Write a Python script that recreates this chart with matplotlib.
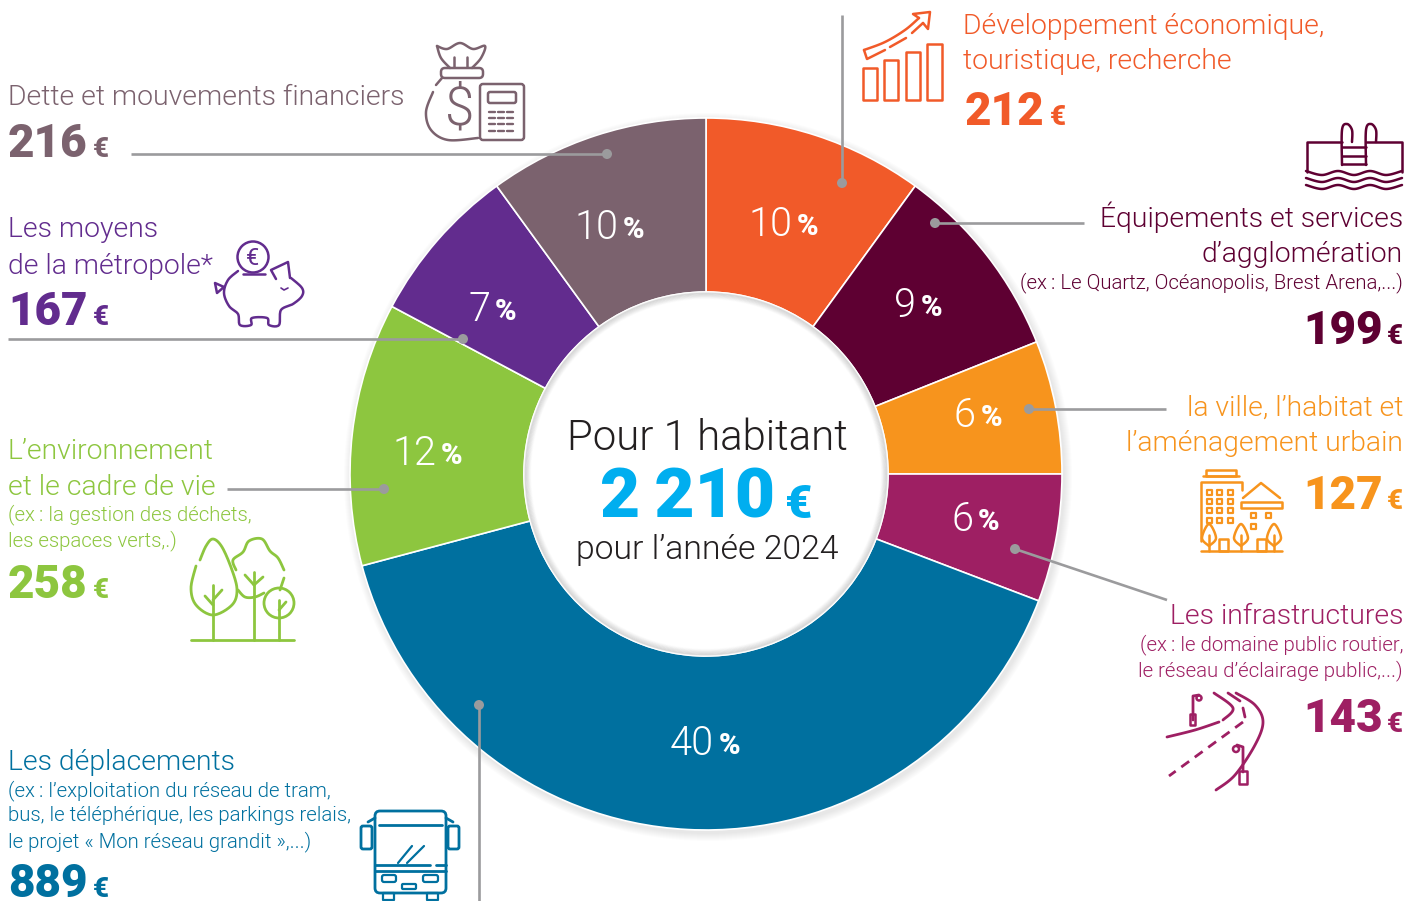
import numpy as np
import matplotlib
matplotlib.use('Agg')
import matplotlib.pyplot as plt
from matplotlib.patches import Circle, Rectangle, FancyBboxPatch

plt.rcParams['font.family'] = ['Roboto', 'DejaVu Sans']

# chart values
categories = ['Développement économique, touristique, recherche',
              'Équipements et services d’agglomération',
              'la ville, l’habitat et l’aménagement urbain',
              'Les infrastructures',
              'Les déplacements',
              'L’environnement et le cadre de vie',
              'Les moyens de la métropole*',
              'Dette et mouvements financiers']
percents = [10, 9, 6, 6, 40, 12, 7, 10]
shares = [10, 8.95, 6.05, 5.8, 40.05, 11.95, 7.2, 10]
euros = [212, 199, 127, 143, 889, 258, 167, 216]
colors = ['#f15a29', '#5e0032', '#f7941d', '#9e1f63', '#00709f', '#8dc63f', '#622c8e', '#7b626e']

# layout, everything is in picture pixels
label_pos = [(794, 236), (918, 317), (978, 427), (975, 531), (716, 755), (438, 465), (492, 321), (620, 239)]
GREY = '#9b9b9d'
leaders = [((842, 15), (842, 183)), ((935, 223), (1084, 223)), ((1029, 409), (1166, 409)),
           ((1015, 549), (1167, 600)), ((479, 705), (479, 901)), ((384, 489), (227, 489)),
           ((463, 339), (8, 339)), ((607, 154), (131, 154))]

fig = plt.figure(figsize=(14.1, 9.01), dpi=100)
ax = fig.add_axes([0, 0, 1, 1])


def smooth(pts, n=14):
    # catmull-rom through the points
    p = np.array(pts, dtype=float)
    p = np.vstack([p[0], p, p[-1]])
    out = []
    for i in range(1, len(p) - 2):
        for u in np.linspace(0, 1, n, endpoint=False):
            a, b, c, d = p[i - 1], p[i], p[i + 1], p[i + 2]
            out.append(0.5 * (2 * b + (c - a) * u + (2 * a - 5 * b + 4 * c - d) * u ** 2 + (3 * b - a - 3 * c + d) * u ** 3))
    out.append(p[-2])
    return np.array(out)


def line(pts, c, lw=1.8, curve=False, **kw):
    p = smooth(pts) if curve else np.array(pts, dtype=float)
    ax.plot(p[:, 0], p[:, 1], color=c, lw=lw, solid_capstyle='round', solid_joinstyle='round', **kw)


def rect(x0, y0, x1, y1, c, lw=1.8, fill='none'):
    ax.add_patch(Rectangle((x0, y0), x1 - x0, y1 - y0, fc=fill, ec=c, lw=lw, joinstyle='round'))


def rrect(x0, y0, x1, y1, c, lw=1.8, r=4):
    ax.add_patch(FancyBboxPatch((x0 + r, y0 + r), x1 - x0 - 2 * r, y1 - y0 - 2 * r,
                                boxstyle='round,pad=%d' % r, fc='none', ec=c, lw=lw))


def circ(x, y, r, c, lw=1.8):
    ax.add_patch(Circle((x, y), r, fc='none', ec=c, lw=lw))


def t(x, y, s, c, size, ha='left', weight=300):
    ax.text(x, y, s, color=c, fontsize=size, ha=ha, va='baseline', fontweight=weight)


def amount(x, y, s, c, size=33, right=None):
    # big number followed by small euro sign
    if right is not None:
        t(right, y, '€', c, 20, ha='right', weight=900)
        t(right - 20, y, s, c, size, ha='right', weight=900)
    else:
        tx = ax.text(x, y, s, color=c, fontsize=size, va='baseline', fontweight=900)
        bb = tx.get_window_extent(fig.canvas.get_renderer())
        t(bb.x1 + 5, y, '€', c, 20, weight=900)


# soft shadow under the ring
for k in range(8, 0, -1):
    ax.add_patch(Circle((708, 477), 356 + k, fc='#000000', ec='none', alpha=0.012))

ax.pie(shares, colors=colors, startangle=-90, counterclock=True, center=(706, 474), radius=356,
       wedgeprops={'width': 174, 'edgecolor': 'white', 'linewidth': 1.2})
ax.set_xlim(0, 1410)
ax.set_ylim(901, 0)
ax.set_aspect('equal')
ax.axis('off')

# white hole, with a shadow along its rim
ax.add_patch(Circle((706, 474), 182, fc='white', ec='white', lw=1))
for k in range(8):
    ax.add_patch(Circle((706, 474), 181 - k * 0.8, fc='none', ec='#000000', lw=1, alpha=0.10 * (1 - k / 8)))

for p, (x, y) in zip(percents, label_pos):
    t(x - 2, y, str(p), 'white', 28.5, ha='right')
    t(x + 3, y - 1, '%', 'white', 21, weight=800)

for a, b in leaders:
    ax.plot([a[0], b[0]], [a[1], b[1]], color=GREY, lw=1.9, solid_capstyle='butt')
for dot in [(842, 183), (935, 223), (1029, 409), (1015, 549), (479, 705), (384, 489), (463, 339), (607, 154)]:
    ax.add_patch(Circle(dot, 5, fc=GREY, ec='none', zorder=5))

# centre
t(707, 450, 'Pour 1 habitant', '#231f20', 30.2, ha='center')
t(600, 518, '2\u2009210', '#00aeef', 50, weight=900)
t(785, 518, '€', '#00aeef', 34, weight=900)
t(707, 559, 'pour l’année 2024', '#231f20', 24.3, ha='center')

# labels
LBL = 20.4
SUB = 14.7
c = colors[7]
t(8, 105, 'Dette et mouvements financiers', c, LBL)
amount(8, 157, str(euros[7]), c)

c = colors[6]
t(8, 237, 'Les moyens', c, LBL)
t(8, 274, 'de la métropole*', c, LBL)
amount(8, 325, str(euros[6]), c)

c = colors[5]
t(8, 459, 'L’environnement', c, LBL)
t(8, 495, 'et le cadre de vie', c, LBL)
t(8, 520, '(ex\u2009: la gestion des déchets,', c, SUB)
t(8, 546, 'les espaces verts,.)', c, SUB)
amount(8, 598, str(euros[5]), c)

c = colors[4]
t(8, 770, 'Les déplacements', c, LBL)
t(8, 796, '(ex\u2009: l’exploitation du réseau de tram,', c, SUB)
t(8, 821, 'bus, le téléphérique, les parkings relais,', c, SUB)
t(8, 847, 'le projet « Mon réseau grandit »,...)', c, SUB)
amount(8, 897, str(euros[4]), c)

c = colors[0]
t(963, 34, 'Développement économique,', c, LBL)
t(963, 69, 'touristique, recherche', c, LBL)
amount(965, 125, str(euros[0]), c)

R = 1403
c = colors[1]
t(R, 227, 'Équipements et services', c, LBL, ha='right')
t(R, 262, 'd’agglomération', c, LBL, ha='right')
t(R, 288, '(ex\u2009: Le Quartz, Océanopolis, Brest Arena,...)', c, SUB, ha='right')
amount(0, 344, str(euros[1]), c, right=R)

c = colors[2]
t(R, 416, 'la ville, l’habitat et', c, LBL, ha='right')
t(R, 451, 'l’aménagement urbain', c, LBL, ha='right')
amount(0, 509, str(euros[2]), c, right=R)

c = colors[3]
t(R, 624, 'Les infrastructures', c, LBL, ha='right')
t(R, 650, '(ex\u2009: le domaine public routier,', c, SUB, ha='right')
t(R, 676, 'le réseau d’éclairage public,...)', c, SUB, ha='right')
amount(0, 732, str(euros[3]), c, right=R)

# --- icons ---
# money bag + calculator
c = colors[7]
line([(437, 46), (447, 49), (460, 43), (473, 49), (485, 46), (481, 58), (472, 68)], c, curve=True)
line([(437, 46), (441, 58), (450, 68)], c, curve=True)
line([(454, 57), (454, 67)], c)
line([(467, 57), (467, 67)], c)
rrect(441, 68, 483, 78, c, r=4)
line([(442, 78), (436, 85)], c)
line([(433, 92), (426, 112), (431, 130), (448, 140), (478, 138)], c, curve=True)
ax.text(460, 124, '$', color=c, fontsize=38, ha='center', va='baseline', fontweight=300)
rrect(480, 84, 524, 140, c, r=3)
rrect(488, 92, 516, 103, c, r=2)
for yy in [112, 118, 124, 131]:
    for xx in [489, 498, 507]:
        line([(xx, yy), (xx + 6, yy)], c, lw=1.7)

# bars + arrow
c = colors[0]
for x0, x1, top in [(863, 877, 68), (884, 898, 60), (906, 920, 52), (927, 942, 44)]:
    rect(x0, top, x1, 100, c)
line([(864, 50), (885, 42), (905, 30), (919, 18)], c, curve=True)
line([(919, 18), (913, 14), (930, 12), (928, 29), (923, 23)], c)
line([(923, 23), (912, 33)], c)
line([(906, 38), (890, 47)], c)
line([(885, 50), (867, 59), (864, 50)], c)

# pool
c = colors[1]
line([(1307, 172), (1307, 142), (1342, 142)], c)
line([(1366, 142), (1402, 142), (1402, 172)], c)
line([(1342, 165), (1342, 130), (1347, 124), (1352, 130), (1352, 142)], c, curve=True)
line([(1366, 165), (1366, 130), (1371, 124), (1376, 130), (1376, 142)], c, curve=True)
for yy in [147, 156, 164]:
    line([(1342, yy), (1366, yy)], c)
for y0 in [172, 179, 186]:
    xs = np.arange(1306, 1404, 16)
    pts = [(x, y0 + (3 if i % 2 else -1)) for i, x in enumerate(xs)]
    line(pts, c, curve=True)

# buildings
c = colors[2]
rect(1206, 470, 1236, 476, c)
line([(1203, 476), (1239, 476)], c)
line([(1201, 541), (1201, 482), (1242, 482), (1242, 490)], c)
for yy in [490, 499, 508, 518]:
    for xx in [1207, 1217, 1228]:
        rect(xx, yy, xx + 5, yy + 5, c, lw=1.6)
line([(1243, 498), (1261, 483), (1280, 498)], c)
rect(1241, 502, 1282, 508, c)
for xx, yy in [(1251, 513), (1266, 513), (1251, 524)]:
    rect(xx, yy, xx + 5, yy + 5, c, lw=1.6)
for xx in [1209, 1241, 1274]:
    pts = [(xx, 546), (xx - 7, 538), (xx, 524), (xx + 7, 538), (xx, 546)]
    line(pts, c, curve=True)
    line([(xx, 535), (xx, 551)], c)
line([(1201, 551), (1282, 551)], c)
rect(1219, 539, 1228, 551, c)
rect(1257, 539, 1266, 551, c)

# road
c = colors[3]
line([(1167, 737), (1195, 730), (1219, 722)], c, lw=2, curve=True)
line([(1223, 720), (1233, 708), (1214, 693)], c, lw=2, curve=True)
line([(1228, 693), (1240, 701)], c, lw=2)
line([(1243, 708), (1245, 717)], c, lw=2)
line([(1243, 722), (1169, 776)], c, lw=2, linestyle=(0, (3.5, 2.5)))
line([(1236, 693), (1255, 705), (1263, 722), (1255, 745), (1235, 775), (1216, 790)], c, lw=2, curve=True)
line([(1193, 720), (1193, 696), (1199, 695)], c, lw=2)
circ(1199, 698, 2.5, c)
rect(1190, 714, 1195, 725, c)
line([(1243, 772), (1243, 747), (1237, 745)], c, lw=2)
circ(1236, 749, 3, c)
rect(1239, 771, 1247, 784, c)

# trees
c = colors[5]
line([(200, 560), (206, 546), (213, 539), (222, 547), (232, 570), (237, 590), (232, 605), (213, 615), (196, 605), (191, 588), (196, 566)], c, lw=2, curve=True)
line([(213, 640), (213, 585)], c, lw=2)
line([(213, 600), (222, 590)], c, lw=2)
line([(213, 605), (205, 596)], c, lw=2)
line([(236, 570), (233, 560), (243, 552), (249, 541), (262, 539), (270, 551), (278, 558), (284, 570)], c, lw=2, curve=True)
line([(284, 578), (280, 590)], c, lw=2)
line([(238, 590), (245, 597), (255, 597), (264, 593)], c, lw=2, curve=True)
line([(254, 640), (254, 572)], c, lw=2)
line([(254, 585), (263, 577)], c, lw=2)
line([(254, 585), (245, 575)], c, lw=2)
circ(279, 603, 15, c, lw=2)
line([(279, 640), (279, 600)], c, lw=2)
line([(279, 610), (286, 602)], c, lw=2)
line([(191, 640), (294, 640)], c, lw=2)

# piggy bank
c = colors[6]
circ(253, 257, 15.5, c)
ax.text(253, 265, '€', color=c, fontsize=17, ha='center', va='baseline')
line([(243, 274), (265, 274)], c)
line([(238, 271), (228, 280), (224, 293), (229, 306), (238, 314), (240, 325), (251, 325), (252, 318), (267, 318), (269, 325), (279, 325), (281, 310), (293, 304), (302, 296), (302, 288), (291, 278)], c, curve=True)
line([(276, 279), (271, 270), (288, 262), (290, 278)], c)
line([(224, 287), (215, 283), (217, 293), (224, 287)], c)
line([(281, 288), (284, 290), (288, 288)], c, lw=1.2)

# bus
c = colors[4]
rrect(375, 811, 446, 893, c, lw=2, r=5)
line([(379, 825), (442, 825)], c, lw=2)
line([(375, 865), (430, 865)], c, lw=2)
line([(436, 865), (446, 865)], c, lw=2)
line([(375, 871), (446, 871)], c, lw=2)
line([(368, 822), (375, 818)], c, lw=2)
line([(453, 822), (446, 818)], c, lw=2)
rrect(361, 826, 372, 849, c, lw=2, r=2)
rrect(448, 826, 459, 849, c, lw=2, r=2)
line([(398, 863), (412, 846)], c, lw=1.6)
line([(407, 863), (424, 846)], c, lw=1.6)
rrect(382, 875, 396, 882, c, lw=1.6, r=2)
rrect(423, 875, 438, 882, c, lw=1.6, r=2)
rrect(402, 884, 416, 889, c, lw=1.6, r=1)
for xx in [383, 427]:
    rect(xx, 893, xx + 11, 900, c, lw=1.6)

fig.savefig('out.png', dpi=100)
